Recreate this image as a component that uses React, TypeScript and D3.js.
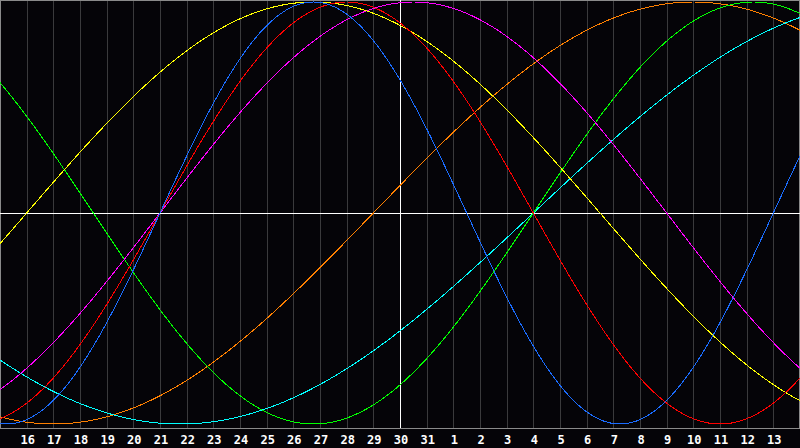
import React from "react";
import * as d3 from "d3";

// Day labels, one per grid column (index 0 = the 15th, index 30 = the 14th of next month)
const dayLabels: string[] = [
  "15", "16", "17", "18", "19", "20", "21", "22", "23", "24", "25", "26", "27", "28", "29",
  "30", "31", "1", "2", "3", "4", "5", "6", "7", "8", "9", "10", "11", "12", "13", "14",
];
const todayIndex = 15; // "30" — the white vertical marker

// Biorhythm cycles
const cycleNames: string[] = ["Physical", "Emotional", "Intellectual", "Intuitive", "Aesthetic", "Awareness", "Spiritual"];
const cyclePeriods: number[] = [23, 28, 33, 38, 43, 48, 53];
// day index where each cycle crosses zero going up
const cycleRiseIndex: number[] = [6, 6, 20, 6, 1, 14, 20];
const cycleColors: string[] = ["#1a6cff", "#ff0000", "#00ff00", "#ff00ff", "#ffff00", "#ff8000", "#00ffff"];

const W = 800;
const H = 448;
const plotBottom = 428;

export default function App() {
  const x = d3.scaleLinear().domain([0, 30]).range([0, W]);
  const y = d3.scaleLinear().domain([-1, 1]).range([424, 2]);
  const samples = d3.range(0, 30.001, 0.05);
  const line = d3
    .line<number>()
    .x((t) => x(t))
    .y((t) => y(t));

  const drawOrder = [5, 6, 2, 3, 4, 1, 0];

  return (
    <svg
      width={W}
      height={H}
      style={{ position: "fixed", left: 0, top: 0, display: "block", background: "#050408" }}
    >
      <rect x={0} y={0} width={W} height={H} fill="#050408" />
      {dayLabels.map((d, i) =>
        i > 0 && i < 30 && i !== todayIndex ? (
          <line
            key={"g" + i}
            x1={Math.round(x(i)) + 0.5}
            x2={Math.round(x(i)) + 0.5}
            y1={0}
            y2={plotBottom}
            stroke="#3a3a3c"
            strokeWidth={1}
            shapeRendering="crispEdges"
          />
        ) : null
      )}
      {/* frame */}
      <rect
        x={0.5}
        y={0.5}
        width={W - 1}
        height={plotBottom}
        fill="none"
        stroke="#8a8a8a"
        strokeWidth={1}
        shapeRendering="crispEdges"
      />
      {/* zero line and today marker */}
      <line x1={0} x2={W} y1={Math.round(y(0)) + 0.5} y2={Math.round(y(0)) + 0.5} stroke="#ffffff" strokeWidth={1} shapeRendering="crispEdges" />
      <line
        x1={Math.round(x(todayIndex)) + 0.5}
        x2={Math.round(x(todayIndex)) + 0.5}
        y1={0}
        y2={plotBottom}
        stroke="#ffffff"
        strokeWidth={1}
        shapeRendering="crispEdges"
      />
      {drawOrder.map((k) => {
        const p = cyclePeriods[k];
        const r = cycleRiseIndex[k];
        const pts = samples.map((t) => t);
        const path = d3
          .line<number>()
          .x((t) => x(t))
          .y((t) => y(Math.sin((2 * Math.PI * (t - r)) / p)))(pts);
        return (
          <path
            key={cycleNames[k]}
            d={path || ""}
            fill="none"
            stroke={cycleColors[k]}
            strokeWidth={1}
            shapeRendering="crispEdges"
          />
        );
      })}
      {dayLabels.map((d, i) =>
        i > 0 && i < 30 ? (
          <text
            key={"t" + i}
            x={x(i) + 1}
            y={444}
            textAnchor="middle"
            fill="#ffffff"
            fontFamily="'DejaVu Sans Mono', monospace"
            fontWeight="bold"
            fontSize={12}
          >
            {d}
          </text>
        ) : null
      )}
    </svg>
  );
}
